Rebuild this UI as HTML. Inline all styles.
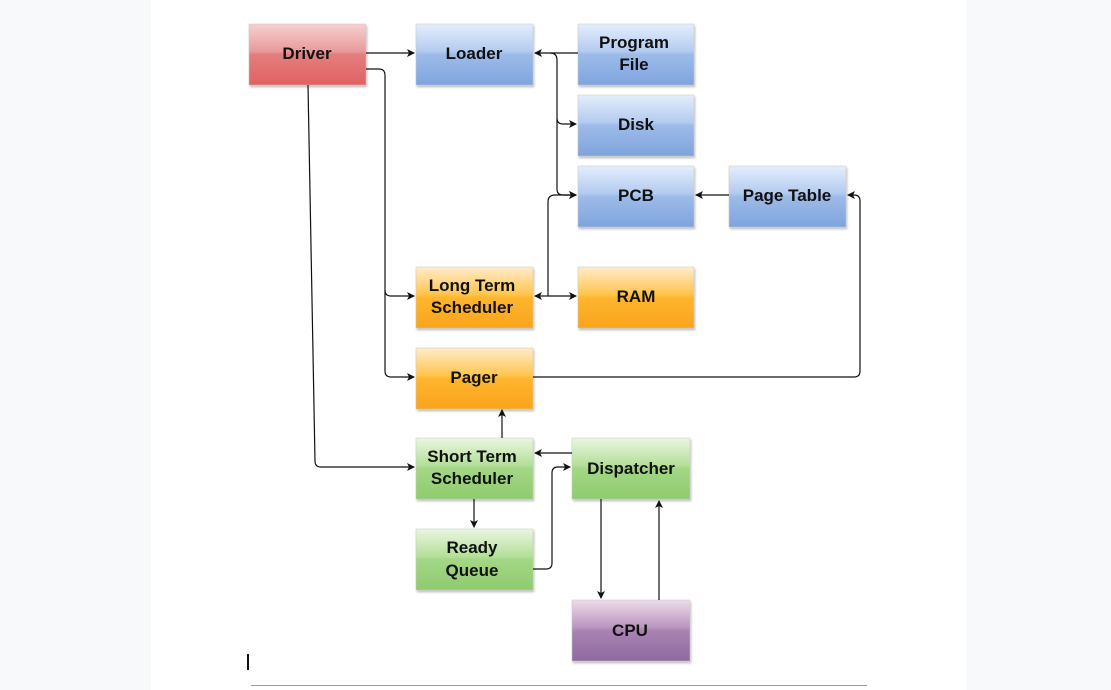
<!DOCTYPE html>
<html><head><meta charset="utf-8"><style>
html,body{margin:0;padding:0;background:#f8f9fa;}
.page{position:absolute;left:151px;top:0;width:816px;height:690px;background:#fff;}
svg{position:absolute;left:0;top:0;}
text{font-family:"Liberation Sans",sans-serif;font-weight:bold;font-size:17px;fill:#111;text-anchor:middle;}
</style></head><body>
<div class="page"></div>
<svg width="1111" height="690" viewBox="0 0 1111 690">
<defs>
<linearGradient id="r" x1="0" y1="0" x2="0" y2="1"><stop offset="0" stop-color="#f6d0d0"/><stop offset="0.45" stop-color="#e99a9a"/><stop offset="0.5" stop-color="#e47d7d"/><stop offset="1" stop-color="#e06262"/></linearGradient>
<linearGradient id="b" x1="0" y1="0" x2="0" y2="1"><stop offset="0" stop-color="#e4eefc"/><stop offset="0.45" stop-color="#b3cbef"/><stop offset="0.5" stop-color="#9dbbe8"/><stop offset="1" stop-color="#7ea4de"/></linearGradient>
<linearGradient id="o" x1="0" y1="0" x2="0" y2="1"><stop offset="0" stop-color="#ffeccc"/><stop offset="0.45" stop-color="#ffc44d"/><stop offset="0.5" stop-color="#ffb52e"/><stop offset="1" stop-color="#f8a51c"/></linearGradient>
<linearGradient id="g" x1="0" y1="0" x2="0" y2="1"><stop offset="0" stop-color="#eaf6e0"/><stop offset="0.45" stop-color="#b4df98"/><stop offset="0.5" stop-color="#a3d785"/><stop offset="1" stop-color="#8fcb6d"/></linearGradient>
<linearGradient id="p" x1="0" y1="0" x2="0" y2="1"><stop offset="0" stop-color="#eedcea"/><stop offset="0.45" stop-color="#b995bf"/><stop offset="0.5" stop-color="#a983b2"/><stop offset="1" stop-color="#8e6aa0"/></linearGradient>
<marker id="a" markerWidth="8" markerHeight="8" refX="7" refY="4" orient="auto" markerUnits="userSpaceOnUse"><path d="M0,0 L8,4 L0,8 L2,4 Z" fill="#111"/></marker>
<filter id="s"><feDropShadow dx="1" dy="2" stdDeviation="1" flood-opacity="0.25"/></filter>
</defs>
<g filter="url(#s)" stroke="#c8c8c8" stroke-width="0.5">
<rect x="249" y="24" width="117" height="61" fill="url(#r)"/>
<rect x="416" y="24" width="117" height="61" fill="url(#b)"/>
<rect x="578" y="24" width="116" height="61" fill="url(#b)"/>
<rect x="578" y="95" width="116" height="61" fill="url(#b)"/>
<rect x="578" y="166" width="116" height="61" fill="url(#b)"/>
<rect x="729" y="166" width="117" height="61" fill="url(#b)"/>
<rect x="416" y="267" width="117" height="61" fill="url(#o)"/>
<rect x="578" y="267" width="116" height="61" fill="url(#o)"/>
<rect x="416" y="348" width="117" height="61" fill="url(#o)"/>
<rect x="416" y="438" width="117" height="61" fill="url(#g)"/>
<rect x="572" y="438" width="118" height="61" fill="url(#g)"/>
<rect x="416" y="529" width="117" height="61" fill="url(#g)"/>
<rect x="572" y="600" width="118" height="61" fill="url(#p)"/>
</g>
<g fill="none" stroke="#111" stroke-width="1.2">
<path d="M366,53 H414" marker-end="url(#a)"/>
<path d="M366,69 H379 Q385,69 385,75 V290 Q385,296 391,296 H414" marker-end="url(#a)"/>
<path d="M385,290 V371 Q385,377 391,377 H414" marker-end="url(#a)"/>
<path d="M308,85 L315,461 Q315,467 321,467 H414" marker-end="url(#a)"/>
<path d="M578,53 H535" marker-end="url(#a)"/>
<path d="M550,53 Q557,53 557,60 V118 Q557,124 563,124 H576" marker-end="url(#a)"/>
<path d="M557,118 V189 Q557,195 563,195 H576" marker-end="url(#a)"/>
<path d="M548,296 V202 Q548,195 555,195 H576" marker-end="url(#a)"/>
<path d="M548,296 H576" marker-end="url(#a)"/>
<path d="M548,296 H535" marker-end="url(#a)"/>
<path d="M729,195 H696" marker-end="url(#a)"/>
<path d="M533,377 H854 Q860,377 860,371 V201 Q860,195 854,195 H848" marker-end="url(#a)"/>
<path d="M502,438 V410" marker-end="url(#a)"/>
<path d="M572,453 H535" marker-end="url(#a)"/>
<path d="M474,499 V527" marker-end="url(#a)"/>
<path d="M533,569 H546 Q552,569 552,563 V473 Q552,467 558,467 H570" marker-end="url(#a)"/>
<path d="M601,499 V598" marker-end="url(#a)"/>
<path d="M659,600 V501" marker-end="url(#a)"/>
</g>
<text x="307" y="59">Driver</text>
<text x="474" y="59">Loader</text>
<text x="634" y="48">Program</text><text x="634" y="70">File</text>
<text x="636" y="130">Disk</text>
<text x="636" y="201">PCB</text>
<text x="787" y="201">Page Table</text>
<text x="472" y="291">Long Term</text><text x="472" y="313">Scheduler</text>
<text x="636" y="302">RAM</text>
<text x="474" y="383">Pager</text>
<text x="472" y="462">Short Term</text><text x="472" y="484">Scheduler</text>
<text x="631" y="474">Dispatcher</text>
<text x="472" y="553">Ready</text><text x="472" y="576">Queue</text>
<text x="630" y="636">CPU</text>
<rect x="247" y="654" width="2" height="16" fill="#111"/>
<rect x="251" y="685" width="616" height="1" fill="#999"/>
</svg>
</body></html>
